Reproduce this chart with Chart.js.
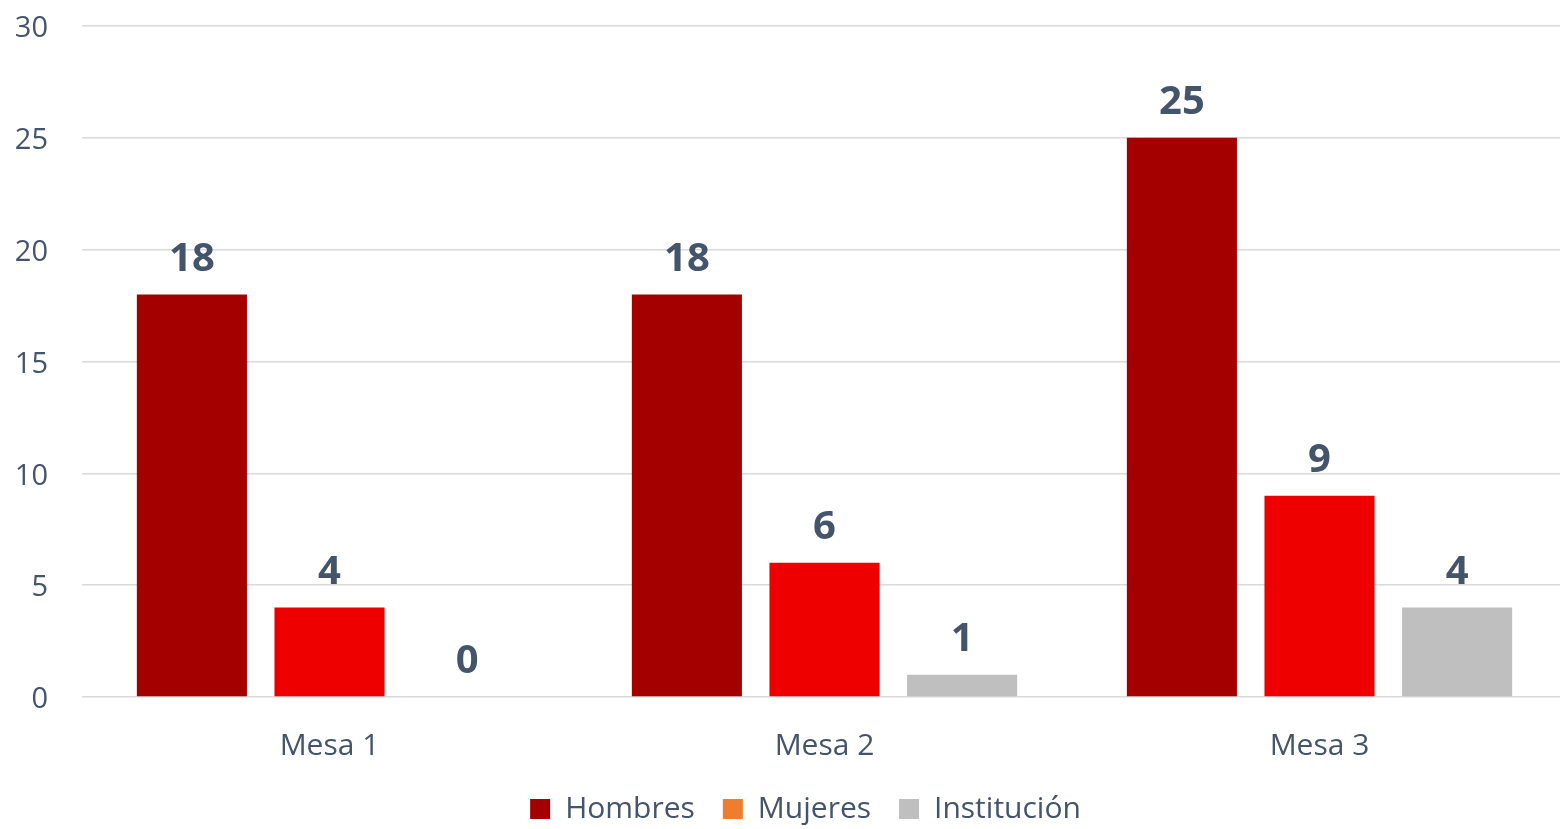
<!DOCTYPE html>
<html>
<head>
<meta charset="utf-8">
<script src="https://cdn.jsdelivr.net/npm/chart.js@4/dist/chart.umd.min.js"></script>
<style>
  html, body { margin: 0; padding: 0; background: #fff; overflow: hidden; }
  #wrap { width: 1567px; height: 829px; }
</style>
</head>
<body>
<div id="wrap"><canvas id="grafica"></canvas></div>
<script>
const mesas = ['Mesa 1', 'Mesa 2', 'Mesa 3'];
const hombres = [18, 18, 25];
const mujeres = [4, 6, 9];
const institucion = [0, 1, 4];
const ticksY = [0, 5, 10, 15, 20, 25, 30];

const colorTexto = '#44546A';
const fuente = "'Open Sans', 'Noto Sans', sans-serif";

// etiquetas de valor encima de cada barra
const etiquetasValor = {
    id: 'etiquetasValor',
    afterDatasetsDraw(chart) {
        const ctx = chart.ctx;
        ctx.save();
        ctx.font = `bold 40px ${fuente}`;
        ctx.fillStyle = colorTexto;
        ctx.textAlign = 'center';
        ctx.textBaseline = 'middle';
        chart.data.datasets.forEach((ds, i) => {
            chart.getDatasetMeta(i).data.forEach((bar, j) => {
                ctx.fillText(ds.data[j], bar.x, bar.y - 35);
            });
        });
        ctx.restore();
    }
};

// altura fija para la leyenda y un pequeño desplazamiento
const ajusteLeyenda = {
    id: 'ajusteLeyenda',
    beforeInit(chart) {
        const fitOriginal = chart.legend.fit;
        chart.legend.fit = function () {
            fitOriginal.call(this);
            this.height = 66;
        };
        const drawOriginal = chart.legend.draw;
        chart.legend.draw = function () {
            this.ctx.save();
            this.ctx.translate(15, 3);
            drawOriginal.call(this);
            this.ctx.restore();
        };
    }
};

new Chart(document.getElementById('grafica'), {
    type: 'bar',
    data: {
        labels: mesas,
        datasets: [
            { label: 'Hombres', data: hombres, backgroundColor: '#A50000', legendColor: '#A50000' },
            { label: 'Mujeres', data: mujeres, backgroundColor: '#EE0000', legendColor: '#ED7D31' },
            { label: 'Institución', data: institucion, backgroundColor: '#BFBFBF', legendColor: '#BFBFBF' }
        ]
    },
    options: {
        responsive: true,
        maintainAspectRatio: false,
        animation: false,
        datasets: { bar: { categoryPercentage: 0.834, barPercentage: 0.80 } },
        layout: { padding: { left: 14, right: 0, top: 26, bottom: 0 } },
        plugins: {
            tooltip: { enabled: false },
            legend: {
                position: 'bottom',
                labels: {
                    font: { family: fuente, size: 30 },
                    color: colorTexto,
                    boxWidth: 20,
                    boxHeight: 20,
                    padding: 28,
                    generateLabels(chart) {
                        return chart.data.datasets.map((ds, i) => ({
                            text: ds.label,
                            fillStyle: ds.legendColor,
                            strokeStyle: ds.legendColor,
                            lineWidth: 0,
                            fontColor: colorTexto,
                            datasetIndex: i
                        }));
                    }
                }
            }
        },
        scales: {
            x: {
                afterFit(axis) { axis.height = 66; },
                grid: { display: false, drawTicks: false },
                border: { display: false },
                ticks: { font: { family: fuente, size: 30 }, color: colorTexto, padding: 31 }
            },
            y: {
                min: 0,
                max: 30,
                afterBuildTicks(axis) { axis.ticks = ticksY.map(v => ({ value: v })); },
                afterFit(axis) {
                    axis.width = 68;
                    axis.paddingTop = 0;
                    axis.paddingBottom = 0;
                },
                grid: { color: '#D9D9D9', lineWidth: 1.5, drawTicks: false },
                border: { display: false },
                ticks: { font: { family: fuente, size: 29 }, color: colorTexto, padding: 34, labelOffset: 3 }
            }
        }
    },
    plugins: [etiquetasValor, ajusteLeyenda]
});
</script>
</body>
</html>
